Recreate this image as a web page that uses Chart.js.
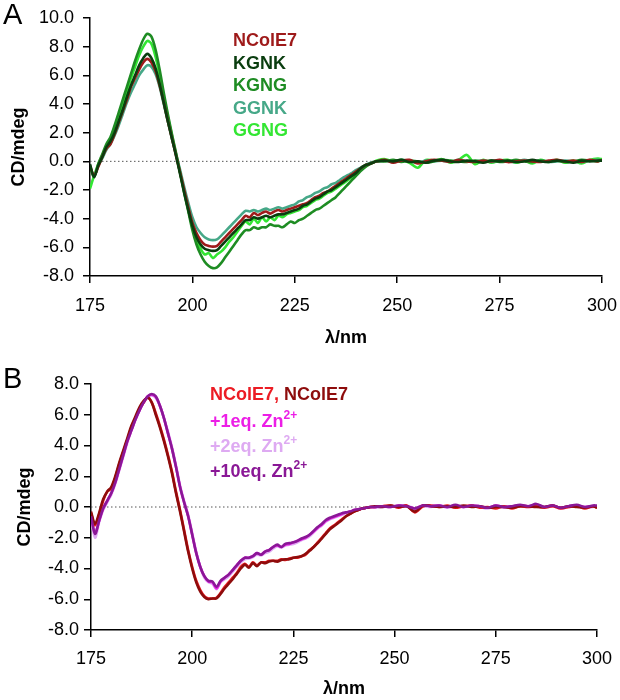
<!DOCTYPE html>
<html>
<head>
<meta charset="utf-8">
<script src="https://cdn.jsdelivr.net/npm/chart.js@4"></script>
<style>
  body { margin: 0; background: #fff; width: 620px; height: 700px; position: relative; overflow: hidden;
         font-family: 'Liberation Sans', Arial, sans-serif; }
  .panel { position: absolute; left: 0; width: 620px; height: 350px; }
  .tag { position: absolute; left: 3px; font-size: 29px; line-height: 29px; color: #000; }
  .key { position: absolute; font-size: 18px; font-weight: bold; line-height: 22px; white-space: nowrap; }
  .key sup { font-size: 12px; vertical-align: 0; position: relative; top: -8px; }
</style>
</head>
<body>
<div class="panel" style="top:0"><canvas id="chartA" width="620" height="350"></canvas></div>
<div class="panel" style="top:350px"><canvas id="chartB" width="620" height="350"></canvas></div>

<div class="tag" style="top:0">A</div>
<div class="tag" style="top:364px">B</div>

<div class="key" style="left:233px;top:29px;color:#9e1a1a">NColE7</div>
<div class="key" style="left:233px;top:51.5px;color:#0a3d0f">KGNK</div>
<div class="key" style="left:233px;top:74px;color:#1e8c23">KGNG</div>
<div class="key" style="left:233px;top:96.5px;color:#46a888">GGNK</div>
<div class="key" style="left:233px;top:119px;color:#33e633">GGNG</div>

<div class="key" style="left:210px;top:383px"><span style="color:#ec1c24">NColE7,</span> <span style="color:#8e0c0c">NColE7</span></div>
<div class="key" style="left:210px;top:409.5px;color:#ec1ee6">+1eq. Zn<sup>2+</sup></div>
<div class="key" style="left:210px;top:434.5px;color:#deaaf2">+2eq. Zn<sup>2+</sup></div>
<div class="key" style="left:210px;top:459.5px;color:#8a1896">+10eq. Zn<sup>2+</sup></div>

<script>
// wavelengths (nm): 1 nm steps to 245, then 2 nm steps
const wavelength = [
  175,176,177,178,179,180,181,182,183,184,
  185,186,187,188,189,190,191,192,193,194,
  195,196,197,198,199,200,201,202,203,204,
  205,206,207,208,209,210,211,212,213,214,
  215,216,217,218,219,220,221,222,223,224,
  225,226,227,228,229,230,231,232,233,234,
  235,236,237,238,239,240,241,242,243,244,
  245,247,249,251,253,255,257,259,261,263,
  265,267,269,271,273,275,277,279,281,283,
  285,287,289,291,293,295,297,299,300
];

// panel A (CD, mdeg)
const ncole7A = [
  -0.3,-1.0,-0.4,0.3,0.9,1.2,1.9,2.7,3.5,4.3,
  5.2,5.8,6.4,6.9,7.15,6.9,6.3,5.3,4.1,2.8,
  1.6,0.4,-0.8,-2.0,-3.2,-4.3,-5.0,-5.5,-5.8,-5.9,
  -5.95,-5.9,-5.6,-5.3,-5.0,-4.7,-4.4,-4.1,-3.8,-3.9,
  -3.6,-3.75,-3.6,-3.5,-3.65,-3.5,-3.4,-3.5,-3.4,-3.3,
  -3.2,-3.1,-3.0,-2.9,-2.7,-2.5,-2.4,-2.2,-2.1,-1.9,
  -1.7,-1.5,-1.3,-1.1,-0.9,-0.7,-0.5,-0.3,-0.2,-0.1,
  0.0,0.1,-0.1,0.05,0.1,-0.15,0.0,0.1,0.05,-0.05,
  0.1,0.0,-0.05,0.05,0.0,0.1,-0.05,0.0,0.05,0.0,
  -0.05,0.05,0.1,0.0,0.05,-0.05,0.1,0.0,0.1
];
const kgnk = [
  -0.2,-1.1,-0.3,0.3,1.0,1.4,2.0,2.8,3.6,4.5,
  5.3,6.0,6.7,7.2,7.5,7.2,6.5,5.4,4.1,2.8,
  1.6,0.4,-0.9,-2.2,-3.4,-4.5,-5.3,-5.8,-6.1,-6.2,
  -6.25,-6.2,-5.9,-5.6,-5.3,-5.0,-4.7,-4.4,-4.1,-4.1,
  -3.9,-4.0,-3.9,-3.8,-3.9,-3.8,-3.7,-3.7,-3.6,-3.5,
  -3.4,-3.3,-3.1,-3.0,-2.8,-2.6,-2.5,-2.3,-2.1,-2.0,
  -1.8,-1.6,-1.4,-1.2,-1.0,-0.8,-0.5,-0.3,-0.2,-0.1,
  0.0,0.05,0.0,0.1,-0.05,0.0,-0.1,0.05,0.1,0.0,
  -0.05,0.05,0.0,-0.1,0.05,0.0,0.05,-0.05,0.0,0.1,
  0.0,-0.05,0.05,0.0,-0.1,0.05,0.0,0.05,0.05
];
const kgng = [
  -0.4,-1.1,-0.2,0.5,1.2,1.7,2.5,3.4,4.3,5.2,
  6.1,7.0,7.8,8.5,8.9,8.7,7.8,6.4,4.8,3.3,
  1.9,0.6,-0.8,-2.2,-3.5,-4.8,-5.8,-6.5,-7.0,-7.3,
  -7.45,-7.4,-7.1,-6.7,-6.3,-5.9,-5.5,-5.1,-4.8,-4.8,
  -4.6,-4.7,-4.6,-4.6,-4.4,-4.5,-4.5,-4.6,-4.4,-4.2,
  -4.3,-4.1,-4.0,-3.8,-3.6,-3.4,-3.3,-3.1,-2.9,-2.7,
  -2.5,-2.2,-1.9,-1.6,-1.3,-1.0,-0.7,-0.45,-0.25,-0.1,
  0.0,0.0,0.1,-0.05,0.05,0.0,-0.1,0.0,0.1,0.05,
  0.0,-0.05,0.05,0.0,0.05,-0.05,0.0,0.1,0.0,-0.05,
  0.05,0.0,0.05,-0.05,0.0,0.1,0.05,0.0,0.1
];
const ggnk = [
  -0.5,-1.0,-0.3,0.2,0.8,1.2,1.8,2.5,3.3,4.1,
  4.8,5.4,6.0,6.4,6.7,6.6,6.1,5.2,4.0,2.8,
  1.6,0.5,-0.6,-1.8,-2.9,-3.9,-4.6,-5.0,-5.3,-5.45,
  -5.5,-5.45,-5.2,-4.9,-4.6,-4.3,-4.0,-3.7,-3.45,-3.5,
  -3.4,-3.5,-3.4,-3.3,-3.4,-3.3,-3.2,-3.3,-3.2,-3.1,
  -3.0,-2.8,-2.7,-2.5,-2.4,-2.2,-2.1,-1.9,-1.8,-1.6,
  -1.5,-1.3,-1.1,-0.95,-0.8,-0.6,-0.45,-0.3,-0.15,-0.05,
  0.0,0.05,-0.05,0.1,0.0,-0.1,0.05,0.0,0.05,-0.05,
  0.1,0.0,0.0,0.05,-0.05,0.05,0.0,-0.05,0.1,0.0,
  0.05,-0.05,0.0,0.05,0.0,-0.05,0.05,0.1,0.05
];
const ggng = [
  -1.9,-1.0,-0.2,0.4,1.0,1.5,2.3,3.2,4.0,4.9,
  5.8,6.6,7.4,8.0,8.4,8.2,7.3,6.0,4.5,3.1,
  1.8,0.5,-0.8,-2.1,-3.4,-4.6,-5.5,-6.1,-6.5,-6.4,
  -6.75,-6.5,-6.3,-6.0,-5.6,-5.3,-4.9,-4.5,-4.2,-4.4,
  -4.0,-4.3,-3.9,-4.2,-3.9,-4.1,-3.8,-3.9,-3.7,-3.6,
  -3.5,-3.4,-3.2,-3.1,-2.9,-2.7,-2.6,-2.4,-2.2,-2.1,
  -1.9,-1.7,-1.5,-1.3,-1.1,-0.9,-0.6,-0.4,-0.2,-0.1,
  0.05,0.15,0.0,0.1,-0.1,-0.45,0.1,0.05,0.15,-0.1,
  0.1,0.45,-0.2,0.1,-0.1,0.05,0.1,-0.1,0.05,-0.15,
  0.1,-0.05,0.1,-0.1,0.05,-0.15,0.1,0.2,0.15
];

// panel B (CD, mdeg)
const ncole7Red = [
  -0.4,-1.2,-0.5,0.4,1.0,1.2,1.9,2.8,3.6,4.4,
  5.2,5.8,6.4,6.8,7.15,6.8,6.1,5.3,4.4,3.4,
  2.3,1.0,-0.2,-1.5,-2.8,-3.9,-4.8,-5.4,-5.8,-5.95,
  -5.95,-5.9,-5.6,-5.2,-4.9,-4.6,-4.3,-3.9,-3.7,-3.9,
  -3.6,-3.8,-3.6,-3.6,-3.5,-3.5,-3.5,-3.4,-3.45,-3.35,
  -3.3,-3.3,-3.2,-3.1,-2.8,-2.6,-2.3,-2.0,-1.7,-1.4,
  -1.2,-1.0,-0.8,-0.6,-0.45,-0.3,-0.2,-0.1,-0.05,0.0,
  0.0,0.05,0.1,-0.05,0.1,-0.35,0.05,0.1,0.0,0.1,
  -0.05,0.05,0.1,-0.05,0.0,-0.1,0.05,-0.1,0.05,0.0,
  0.05,-0.05,0.05,-0.1,0.0,0.1,-0.1,0.05,-0.05
];
const ncole7Dark = [
  -0.3,-1.1,-0.4,0.5,1.0,1.3,2.0,2.9,3.7,4.5,
  5.3,5.9,6.5,6.9,7.1,6.8,6.0,5.2,4.3,3.3,
  2.2,0.9,-0.3,-1.6,-2.9,-4.0,-4.9,-5.5,-5.85,-6.0,
  -5.95,-5.95,-5.65,-5.3,-5.0,-4.7,-4.35,-4.0,-3.75,-3.95,
  -3.65,-3.85,-3.6,-3.65,-3.55,-3.5,-3.55,-3.45,-3.4,-3.4,
  -3.3,-3.25,-3.2,-3.05,-2.85,-2.6,-2.35,-2.05,-1.75,-1.45,
  -1.25,-1.05,-0.85,-0.6,-0.45,-0.3,-0.2,-0.1,-0.05,0.0,
  0.05,0.0,0.1,0.0,0.05,-0.3,0.1,0.05,0.0,0.05,
  0.0,0.1,0.0,0.05,-0.05,0.0,0.0,-0.05,0.05,0.05,
  0.0,0.0,0.1,-0.05,0.05,0.0,-0.05,0.05,-0.05
];
const zn1eq = [
  -0.6,-1.7,-0.9,-0.1,0.4,0.9,1.6,2.5,3.4,4.3,
  5.0,5.7,6.3,6.8,7.2,7.3,7.15,6.6,5.8,4.8,
  3.8,2.6,1.3,0.3,-0.6,-1.8,-3.0,-3.9,-4.5,-4.85,
  -4.9,-5.3,-4.85,-4.6,-4.4,-4.1,-3.8,-3.5,-3.3,-3.3,
  -3.2,-3.0,-3.1,-2.9,-2.8,-2.6,-2.5,-2.6,-2.45,-2.4,
  -2.3,-2.2,-2.1,-2.0,-1.8,-1.6,-1.35,-1.15,-0.9,-0.75,
  -0.65,-0.55,-0.45,-0.35,-0.3,-0.2,-0.15,-0.1,-0.05,0.0,
  0.0,0.05,0.0,0.1,0.05,-0.1,0.1,0.05,0.1,0.0,
  0.1,0.0,0.1,0.05,-0.05,0.1,0.0,0.05,0.1,0.05,
  0.15,0.0,0.1,-0.05,0.05,0.1,0.0,0.05,0.05
];
const zn2eq = [
  -0.8,-2.0,-1.0,-0.2,0.3,0.8,1.5,2.4,3.3,4.2,
  5.0,5.7,6.3,6.8,7.1,7.25,7.1,6.6,5.8,4.9,
  3.9,2.7,1.4,0.4,-0.5,-1.7,-2.9,-3.9,-4.6,-4.9,
  -5.0,-5.35,-4.9,-4.7,-4.5,-4.2,-3.9,-3.6,-3.4,-3.35,
  -3.25,-3.1,-3.15,-3.0,-2.9,-2.7,-2.55,-2.65,-2.5,-2.45,
  -2.4,-2.3,-2.15,-2.05,-1.9,-1.65,-1.4,-1.2,-0.95,-0.8,
  -0.7,-0.6,-0.5,-0.4,-0.3,-0.25,-0.15,-0.1,-0.05,0.0,
  -0.05,0.0,0.05,0.0,0.1,-0.1,0.05,0.0,0.1,-0.05,
  0.05,0.0,0.05,0.0,-0.1,0.05,-0.05,0.0,0.05,0.0,
  0.1,-0.05,0.05,-0.1,0.0,0.05,-0.05,0.0,0.05
];
const zn10eq = [
  -0.6,-1.75,-0.9,-0.1,0.4,0.9,1.6,2.5,3.4,4.3,
  5.0,5.7,6.3,6.8,7.2,7.35,7.2,6.6,5.8,4.8,
  3.8,2.6,1.3,0.3,-0.6,-1.8,-3.0,-3.9,-4.5,-4.8,
  -4.85,-5.2,-4.8,-4.6,-4.4,-4.1,-3.8,-3.5,-3.3,-3.3,
  -3.2,-3.0,-3.1,-2.9,-2.8,-2.6,-2.45,-2.6,-2.4,-2.35,
  -2.3,-2.2,-2.05,-1.95,-1.8,-1.55,-1.3,-1.1,-0.85,-0.7,
  -0.6,-0.5,-0.4,-0.35,-0.3,-0.2,-0.15,-0.1,-0.05,0.0,
  0.0,0.05,0.0,0.1,0.05,-0.1,0.1,0.05,0.1,0.0,
  0.15,0.0,0.1,0.05,-0.05,0.1,0.0,0.05,0.15,0.05,
  0.2,0.0,0.1,-0.05,0.05,0.15,0.0,0.1,0.1
];

// dotted zero reference
const zeroSpan = [175, 300];
const zeroLevel = [0, 0];

const FONT = "'Liberation Sans', Arial, sans-serif";

function pts(xs, ys) {
  return xs.map((x, i) => ({ x: x, y: ys[i] }));
}

function series(ys, color) {
  return { data: pts(wavelength, ys), borderColor: color, borderWidth: 2.6, pointRadius: 0, tension: 0.3, fill: false };
}

function zeroLine() {
  return { data: pts(zeroSpan, zeroLevel), borderColor: '#555', borderWidth: 1, borderDash: [1.5, 2.5], pointRadius: 0, fill: false };
}

function buildChart(id, datasets, o) {
  return new Chart(document.getElementById(id), {
    type: 'line',
    data: { datasets: datasets },
    options: {
      responsive: false,
      animation: false,
      layout: { padding: o.padding },
      plugins: { legend: { display: false }, tooltip: { enabled: false } },
      scales: {
        x: {
          type: 'linear', min: 175, max: 300,
          // fixed box so the plot area lands where the original is
          afterFit: (s) => { s.height = o.xHeight; s.paddingLeft = 0; s.paddingRight = 0; },
          border: { display: true, color: '#000', width: 1.5 },
          grid: { drawOnChartArea: false, drawTicks: true, tickLength: 7, color: '#000', lineWidth: 1.5 },
          ticks: { stepSize: 25, color: '#000', padding: o.xTickPad, font: { family: FONT, size: 18 } },
          title: { display: true, text: 'λ/nm', color: '#000', padding: o.xTitlePad,
                   font: { family: FONT, size: 18, weight: 'bold' } }
        },
        y: {
          min: o.yMin, max: o.yMax,
          afterFit: (s) => { s.width = o.yWidth; s.paddingTop = 0; s.paddingBottom = 0; },
          border: { display: true, color: '#000', width: 1.5 },
          grid: { drawOnChartArea: false, drawTicks: true, tickLength: 7, color: '#000', lineWidth: 1.5 },
          ticks: { stepSize: 2, color: '#000', padding: o.yTickPad, font: { family: FONT, size: 18 },
                   callback: (v) => v.toFixed(1) },
          title: { display: true, text: 'CD/mdeg', color: '#000', padding: o.yTitlePad,
                   font: { family: FONT, size: 18, weight: 'bold' } }
        }
      }
    }
  });
}

// first dataset is drawn on top
buildChart('chartA', [
  series(kgnk, '#0a3d0f'),
  series(ncole7A, '#9e1a1a'),
  series(kgng, '#1e8c23'),
  series(ggnk, '#46a888'),
  series(ggng, '#33e633'),
  zeroLine()
], {
  padding: { left: 0, right: 18, top: 18, bottom: 0 },
  yWidth: 90, xHeight: 74, yMin: -8, yMax: 10,
  xTickPad: 12, yTickPad: 9,
  xTitlePad: { top: 0, bottom: 1 }, yTitlePad: { top: 8, bottom: 0 }
});

buildChart('chartB', [
  series(zn10eq, '#8a1896'),
  series(ncole7Dark, '#8e0c0c'),
  series(ncole7Red, '#ec1c24'),
  series(zn1eq, '#ec1ee6'),
  series(zn2eq, '#deaaf2'),
  zeroLine()
], {
  padding: { left: 0, right: 23, top: 34, bottom: 0 },
  yWidth: 91, xHeight: 70, yMin: -8, yMax: 8,
  xTickPad: 11, yTickPad: 5,
  xTitlePad: { top: 0, bottom: 0 }, yTitlePad: { top: 14, bottom: 0 }
});
</script>
</body>
</html>
